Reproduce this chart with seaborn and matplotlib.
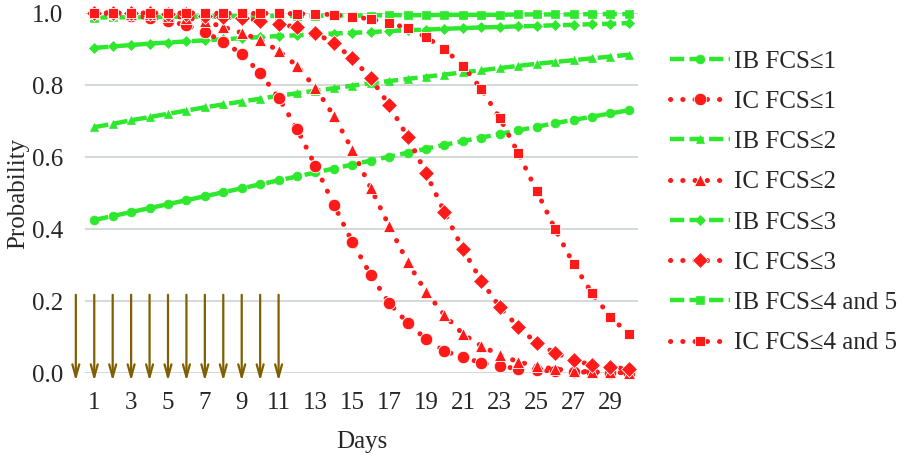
import matplotlib
matplotlib.use("Agg")
import matplotlib.pyplot as plt
import seaborn as sns
import numpy as np
from matplotlib.lines import Line2D

days = list(range(1, 31))

ib_fcs1 = [0.425, 0.436, 0.447, 0.458, 0.469, 0.480, 0.491, 0.502, 0.513, 0.524,
           0.535, 0.546, 0.557, 0.568, 0.579, 0.590, 0.601, 0.612, 0.623, 0.634,
           0.644, 0.654, 0.664, 0.674, 0.684, 0.694, 0.703, 0.712, 0.721, 0.730]
ic_fcs1 = [0.999, 0.997, 0.993, 0.987, 0.978, 0.966, 0.947, 0.920, 0.886, 0.833,
           0.765, 0.678, 0.575, 0.467, 0.364, 0.272, 0.194, 0.139, 0.094, 0.061,
           0.044, 0.028, 0.019, 0.012, 0.008, 0.005, 0.003, 0.002, 0.001, 0.001]
ib_fcs2 = [0.683, 0.692, 0.702, 0.711, 0.720, 0.729, 0.738, 0.746, 0.754, 0.762,
           0.770, 0.777, 0.784, 0.791, 0.798, 0.805, 0.811, 0.817, 0.823, 0.829,
           0.835, 0.841, 0.847, 0.853, 0.859, 0.864, 0.869, 0.874, 0.879, 0.884]
ic_fcs2 = [0.999, 0.999, 0.998, 0.996, 0.993, 0.987, 0.977, 0.961, 0.945, 0.925,
           0.895, 0.853, 0.792, 0.714, 0.620, 0.514, 0.408, 0.308, 0.225, 0.161,
           0.108, 0.075, 0.050, 0.031, 0.019, 0.011, 0.006, 0.003, 0.002, 0.001]
ib_fcs3 = [0.903, 0.907, 0.911, 0.915, 0.918, 0.921, 0.924, 0.927, 0.930, 0.933,
           0.936, 0.938, 0.941, 0.943, 0.945, 0.947, 0.950, 0.952, 0.954, 0.956,
           0.958, 0.960, 0.961, 0.963, 0.964, 0.966, 0.967, 0.969, 0.970, 0.972]
ic_fcs3 = [1.000, 1.000, 0.999, 0.999, 0.998, 0.996, 0.993, 0.988, 0.985, 0.979,
           0.970, 0.960, 0.944, 0.916, 0.874, 0.819, 0.744, 0.656, 0.555, 0.447,
           0.344, 0.256, 0.183, 0.128, 0.083, 0.056, 0.036, 0.022, 0.017, 0.011]
ib_fcs45 = [0.987, 0.988, 0.988, 0.989, 0.989, 0.990, 0.990, 0.991, 0.991, 0.991,
            0.992, 0.992, 0.992, 0.993, 0.993, 0.993, 0.994, 0.994, 0.994, 0.995,
            0.995, 0.995, 0.995, 0.996, 0.996, 0.996, 0.996, 0.997, 0.997, 0.997]
ic_fcs45 = [1.000, 1.000, 1.000, 1.000, 1.000, 1.000, 1.000, 0.999, 0.999, 0.999,
            0.999, 0.998, 0.998, 0.995, 0.990, 0.983, 0.972, 0.958, 0.933, 0.900,
            0.853, 0.789, 0.708, 0.611, 0.506, 0.400, 0.303, 0.222, 0.156, 0.108]

labels = ["IB FCS\u22641", "IC FCS\u22641", "IB FCS\u22642", "IC FCS\u22642",
          "IB FCS\u22643", "IC FCS\u22643", "IB FCS\u22644 and 5", "IC FCS\u22644 and 5"]
series = [ib_fcs1, ic_fcs1, ib_fcs2, ic_fcs2, ib_fcs3, ic_fcs3, ib_fcs45, ic_fcs45]
markers = ["o", "o", "^", "^", "D", "D", "s", "s"]
arrow_days = list(range(0, 12))
tick_days = list(range(1, 30, 2))

GREEN = "#2EE82E"
RED = "#FF1A1A"
ARROW = "#7F5F00"
FS = 18

sns.set_style("white")
plt.rcParams["font.family"] = ["Liberation Serif", "DejaVu Serif"]

fig = plt.figure(figsize=(8.98, 4.53), dpi=100)
ax = fig.add_axes([0.0947, 0.1766, 0.6158, 0.7947])

green_style = dict(color=GREEN, linestyle=(0, (3.2, 1.2)), linewidth=3.2,
                   markeredgecolor=GREEN, markeredgewidth=0.5)
red_style = dict(color=RED, linestyle=(0, (0.05, 2.4)), linewidth=3.6,
                 dash_capstyle="round", markeredgecolor="white", markeredgewidth=0.6)

msize = {"o": 7.5, "^": 7.5, "D": 6.5, "s": 6.5}
handles = []
for i, (vals, lab, mk) in enumerate(zip(series, labels, markers)):
    st = green_style if i % 2 == 0 else red_style
    ms = msize[mk] * (0.85 if i % 2 == 0 else 1.2)
    sns.lineplot(x=days, y=vals, ax=ax, marker=mk, markersize=ms,
                 clip_on=False, zorder=3 + i % 2, **st)
    handles.append(Line2D([], [], marker=mk, markersize=ms, **st))

ax.set_xlim(0.5, 30.5)
ax.set_ylim(0, 1.0)
ax.set_yticks(np.arange(0, 1.01, 0.2))
ax.set_yticklabels([f"{v:.1f}" for v in np.arange(0, 1.01, 0.2)], fontsize=FS)
ax.set_xticks(tick_days)
ax.set_xticklabels([str(d) for d in tick_days], fontsize=FS)
ax.tick_params(axis="y", length=0, pad=16)
ax.tick_params(axis="x", length=0, pad=14)
ax.grid(axis="y", color="#D3D9D9", linewidth=1.4)
ax.set_axisbelow(True)
for s in ax.spines.values():
    s.set_visible(False)

ax.set_xlabel("Days", fontsize=FS, labelpad=12)
ax.set_ylabel("Probability", fontsize=FS, labelpad=2)

for d in arrow_days:
    ax.annotate("", xy=(d, -0.03), xytext=(d, 0.225), annotation_clip=False,
                arrowprops=dict(arrowstyle="->,head_length=0.9,head_width=0.25",
                                color=ARROW, lw=1.6))

ax.legend(handles, labels, loc="upper left", bbox_to_anchor=(1.04, 0.925),
          frameon=False, fontsize=FS, handlelength=2.4, labelspacing=0.71,
          handletextpad=0.15, borderaxespad=0)

fig.savefig("out.png", dpi=100)
